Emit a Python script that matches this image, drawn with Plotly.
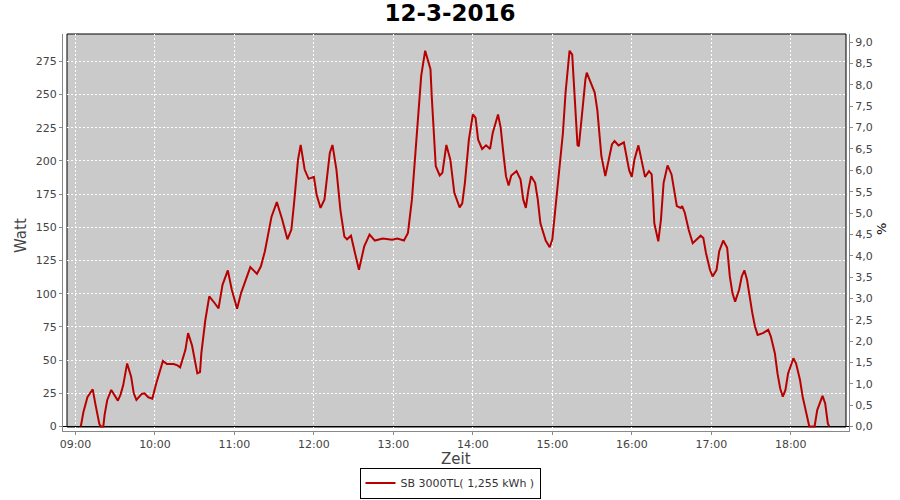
import plotly.graph_objects as go

DAY = "2016-03-12"
times = [
    "09:04", "09:06", "09:09", "09:13", "09:15", "09:18", "09:19", "09:21", "09:22", "09:24",
    "09:27", "09:30", "09:32", "09:34", "09:36", "09:39", "09:42", "09:44", "09:46", "09:50",
    "09:52", "09:55", "09:58", "10:01", "10:04", "10:06", "10:09", "10:11", "10:14", "10:17",
    "10:19", "10:23", "10:25", "10:28", "10:31", "10:32", "10:34", "10:35", "10:38", "10:41",
    "10:45", "10:48", "10:51", "10:55", "10:58", "11:02", "11:05", "11:08", "11:12", "11:17",
    "11:20", "11:23", "11:26", "11:28", "11:32", "11:36", "11:40", "11:43", "11:45", "11:48",
    "11:50", "11:53", "11:56", "12:00", "12:02", "12:05", "12:08", "12:12", "12:14", "12:17",
    "12:20", "12:23", "12:25", "12:28", "12:31", "12:34", "12:38", "12:42", "12:46", "12:52",
    "12:59", "13:03", "13:08", "13:11", "13:14", "13:16", "13:19", "13:21", "13:24", "13:26",
    "13:28", "13:29", "13:31", "13:32", "13:35", "13:37", "13:40", "13:43", "13:46", "13:50",
    "13:52", "13:54", "13:57", "14:00", "14:02", "14:04", "14:07", "14:10", "14:13", "14:15",
    "14:19", "14:21", "14:23", "14:25", "14:27", "14:29", "14:33", "14:36", "14:38", "14:40",
    "14:42", "14:44", "14:47", "14:49", "14:51", "14:55", "14:58", "15:00", "15:02", "15:04",
    "15:06", "15:08", "15:10", "15:12", "15:13", "15:15", "15:17", "15:18", "15:19", "15:20",
    "15:21", "15:23", "15:25", "15:26", "15:29", "15:32", "15:34", "15:35", "15:37", "15:40",
    "15:42", "15:45", "15:47", "15:50", "15:54", "15:56", "15:58", "16:00", "16:02", "16:05",
    "16:07", "16:09", "16:10", "16:13", "16:15", "16:16", "16:17", "16:20", "16:22", "16:24",
    "16:27", "16:30", "16:32", "16:34", "16:37", "16:38", "16:40", "16:43", "16:46", "16:49",
    "16:52", "16:54", "16:56", "16:59", "17:01", "17:04", "17:06", "17:09", "17:12", "17:14",
    "17:16", "17:18", "17:21", "17:23", "17:25", "17:27", "17:29", "17:31", "17:33", "17:35",
    "17:39", "17:43", "17:45", "17:48", "17:50", "17:52", "17:54", "17:56", "17:58", "18:02",
    "18:04", "18:07", "18:09", "18:12", "18:14", "18:18", "18:20", "18:24", "18:26", "18:28",
    "18:29",
]
watt = [
    0, 11, 22, 28, 17, 2, 0, 0, 9, 20,
    27.5, 22, 19.5, 24, 31, 47.5, 37.5, 25, 20, 24.5,
    25, 22, 21, 32.5, 42.6, 49.4, 47, 47, 47, 46,
    44.6, 57.7, 70.3, 61, 45, 40, 41, 55, 80, 98,
    93, 89, 106.7, 117.6, 103, 88.6, 100.5, 109, 120, 115,
    120.6, 132, 148, 158, 169, 156, 141, 148.3, 168, 201,
    212, 193.5, 186.5, 188, 174.7, 164.6, 171, 206, 212, 193.5,
    163, 143, 141, 143.7, 130.7, 118, 135.7, 144.5, 140, 141.5,
    140.7, 141.5, 140, 145.8, 171, 196, 236, 264, 283, 276,
    269, 248, 216, 196, 189, 191, 212, 201, 176, 165,
    168, 183.5, 216, 235, 232.6, 216, 209, 211.7, 209, 221,
    235, 225, 206, 188.5, 181.5, 189, 192.3, 186, 171, 164.6,
    178.5, 188.5, 183.5, 171, 153, 140, 135, 141, 161, 181,
    198.6, 221, 251.5, 276.6, 283, 280, 250, 231, 212, 211,
    220, 241, 261.5, 266.5, 259, 251.5, 238, 224, 204, 188.5,
    198.6, 212.4, 215, 211.7, 214, 203.6, 193, 188, 201, 211.7,
    201, 191, 188, 192.3, 189.8, 173.4, 153, 139.4, 155.8, 183.5,
    196.6, 189.8, 176, 166, 164.6, 166, 161, 148, 138, 140.7,
    143.7, 142, 130.7, 118, 113, 118, 132, 140, 134.5, 113,
    100.5, 94, 103, 113, 117.6, 110.5, 96.7, 85.4, 75.3, 69,
    70.3, 72.8, 67.7, 55.2, 40, 28.8, 22.4, 27.5, 40, 51.4,
    47.6, 35, 22.4, 10, 0, 0, 12.4, 23, 17.4, 2.3,
    0,
]
series_name = "SB 3000TL( 1,255 kWh )"
title_text = "12-3-2016"

x = [f"{DAY} {t}" for t in times]

W, H = 900, 500
ML, MR, MT, MB = 63, 51, 34, 69
pw, ph = W - ML - MR, H - MT - MB

def px(xp):
    return (xp - ML) / pw

def py(yp):
    return (H - MB - yp) / ph

fig = go.Figure()
fig.add_trace(go.Scatter(x=x, y=watt, mode="lines", name=series_name,
                         line=dict(color="#B80000", width=2), yaxis="y"))
fig.add_trace(go.Scatter(x=[x[0]], y=[0], mode="markers", showlegend=False,
                         marker=dict(opacity=0), yaxis="y2", hoverinfo="skip"))

tickfont = dict(family="DejaVu Sans", size=11, color="#444444")
fig.update_layout(
    template="none",
    width=W, height=H,
    margin=dict(l=ML, r=MR, t=MT, b=MB, pad=0, autoexpand=False),
    paper_bgcolor="white", plot_bgcolor="rgba(0,0,0,0)",
    separators=",.",
    showlegend=True,
    title=dict(text=f"<b>{title_text}</b>", x=0.5, xanchor="center",
               y=1 - 13 / H, yanchor="middle",
               font=dict(family="DejaVu Sans", size=23, color="black")),
    xaxis=dict(type="date", automargin=False,
               range=[f"{DAY} 08:50:34", f"{DAY} 18:43:59"],
               dtick=3600000, tick0=f"{DAY} 09:00", tickformat="%H:%M",
               showgrid=True, gridcolor="white", griddash="2px,2px", gridwidth=1,
               showline=True, linecolor="#888888", linewidth=1,
               ticks="outside", ticklen=3, tickcolor="#888888",
               tickfont=tickfont, zeroline=False),
    yaxis=dict(range=[-4.5 / 1.328, 392.5 / 1.328], dtick=25, tick0=0, automargin=False,
               showgrid=True, gridcolor="white", griddash="2px,2px", gridwidth=1,
               zeroline=True, zerolinecolor="black", zerolinewidth=1,
               showline=True, linecolor="#888888", linewidth=1,
               ticks="outside", ticklen=3, tickcolor="#888888",
               tickfont=tickfont),
    yaxis2=dict(overlaying="y", side="right", automargin=False,
                range=[-4.5 / 42.7, 392.5 / 42.7], dtick=0.5, tick0=0,
                tickformat=".1f", showgrid=False, zeroline=False,
                showline=True, linecolor="#888888", linewidth=1,
                ticks="outside", ticklen=3, tickcolor="#888888",
                tickfont=tickfont),
    legend=dict(x=px(450), xanchor="center", y=py(498.5), yanchor="bottom",
                bordercolor="black", borderwidth=1, bgcolor="white",
                font=dict(family="DejaVu Sans", size=11, color="#333333"),
                itemwidth=30),
)

fig.add_shape(type="rect", xref="paper", yref="paper",
              x0=px(67), x1=px(846), y0=py(427), y1=py(34),
              fillcolor="#CACACA", line=dict(color="black", width=1), layer="below")

axis_font = dict(family="DejaVu Sans", size=15, color="#444444")
fig.add_annotation(text="Watt", xref="paper", yref="paper", x=px(21), y=py(236),
                   textangle=-90, showarrow=False, font=axis_font,
                   xanchor="center", yanchor="middle")
fig.add_annotation(text="Zeit", xref="paper", yref="paper", x=px(456), y=py(459),
                   showarrow=False, font=axis_font, xanchor="center", yanchor="middle")
fig.add_annotation(text="%", xref="paper", yref="paper", x=px(882), y=py(229),
                   textangle=-90, showarrow=False,
                   font=dict(family="DejaVu Sans", size=13, color="black"),
                   xanchor="center", yanchor="middle")

fig.write_html("out.html", config={"displayModeBar": False},
               post_script="document.body.style.margin='0';document.body.style.padding='0';")
